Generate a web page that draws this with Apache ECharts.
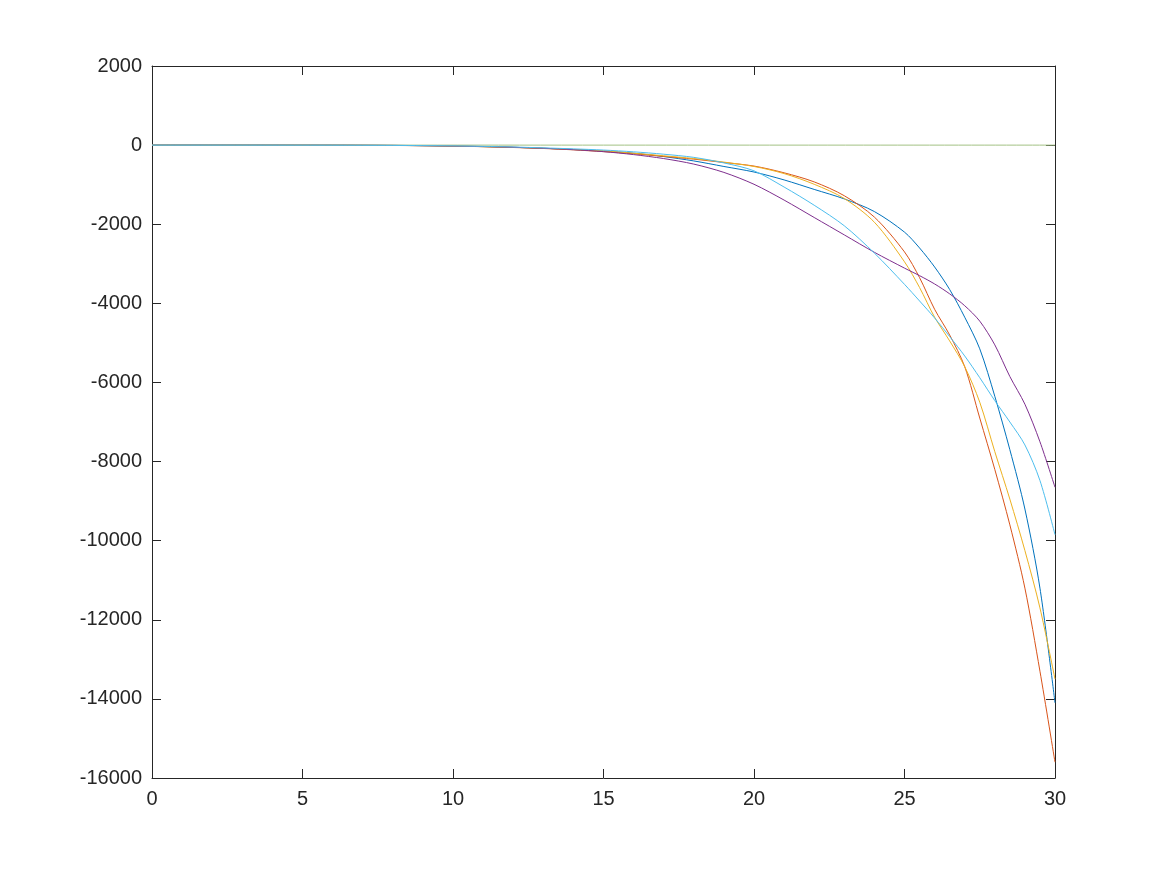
<!DOCTYPE html>
<html><head><meta charset="utf-8">
<script src="https://cdn.jsdelivr.net/npm/echarts@6/dist/echarts.min.js"></script>
<style>html,body{margin:0;padding:0;background:#fff}#c{width:1167px;height:875px}</style>
</head><body><div id="c"></div>
<script>
const xs = [0,2,4,6,7,8,9,10,11,12,13,14,15,16,17,18,19,20,21,22,23,24,25,25.5,26,26.5,27,27.5,28,28.5,29,29.5,30];
const blueVals = [0,0,-1,-3,-5,-8,-14,-24,-38,-56,-80,-110,-150,-205,-290,-400,-540,-680,-880,-1120,-1360,-1680,-2200,-2600,-3080,-3650,-4350,-5150,-6350,-7700,-9200,-11200,-14100];
const orangeVals = [0,0,-1,-3,-5,-9,-15,-26,-40,-60,-85,-120,-165,-220,-285,-355,-440,-530,-700,-930,-1280,-1820,-2700,-3350,-4150,-4800,-5600,-6900,-8200,-9600,-11200,-13300,-15600];
const yellowVals = [0,0,-1,-3,-5,-8,-14,-24,-38,-56,-80,-110,-145,-205,-270,-340,-430,-540,-720,-990,-1350,-1950,-2950,-3600,-4350,-4950,-5600,-6500,-7750,-8950,-10250,-11700,-13500];
const purpleVals = [0,0,-1,-2,-4,-7,-13,-22,-35,-55,-80,-115,-165,-240,-340,-480,-690,-990,-1390,-1830,-2270,-2710,-3110,-3300,-3510,-3760,-4060,-4450,-5050,-5850,-6550,-7500,-8650];
const lightBlueVals = [0,0,-1,-2,-4,-7,-12,-20,-32,-48,-70,-95,-125,-170,-230,-310,-450,-650,-1060,-1520,-2040,-2730,-3520,-3940,-4370,-4840,-5330,-5880,-6460,-7000,-7580,-8480,-9850];
const greenX = [0, 30];
const greenVals = [0, 0];

const xTicks = {min: 0, max: 30, interval: 5};
const yTicks = {min: -16000, max: 2000, interval: 2000};

const pairs = (x, y) => x.map((v, i) => [v, y[i]]);
const font = "'Liberation Sans', Helvetica, Arial, sans-serif";
const axisLine = {show: true, onZero: false, lineStyle: {color: '#262626', width: 1}};
const tick = {show: true, inside: true, length: 9, lineStyle: {color: '#262626', width: 1}};
const lbl = {color: '#262626', fontSize: 20, fontFamily: font};

const chart = echarts.init(document.getElementById('c'));
const line = (name, x, y, color) => ({
  name, type: 'line', data: pairs(x, y), showSymbol: false, symbol: 'none',
  smooth: 0.3, animation: false,
  lineStyle: {color, width: 1}, itemStyle: {color}, z: 2
});
chart.setOption({
  animation: false,
  backgroundColor: '#ffffff',
  grid: {left: 152, right: 112, top: 66, bottom: 97, containLabel: false},
  xAxis: [
    {type: 'value', position: 'bottom', ...xTicks, axisLine, axisTick: tick,
     axisLabel: {...lbl, margin: 11, formatter: v => String(v)}, splitLine: {show: false}},
    {type: 'value', position: 'top', ...xTicks, axisLine, axisTick: tick,
     axisLabel: {show: false}, splitLine: {show: false}}
  ],
  yAxis: [
    {type: 'value', position: 'left', ...yTicks, axisLine, axisTick: tick,
     axisLabel: {...lbl, margin: 10, formatter: v => String(v)}, splitLine: {show: false}},
    {type: 'value', position: 'right', ...yTicks, axisLine, axisTick: tick,
     axisLabel: {show: false}, splitLine: {show: false}}
  ],
  series: [
    line('s1', xs, blueVals, '#0072BD'),
    line('s2', xs, orangeVals, '#D95319'),
    line('s3', xs, yellowVals, '#EDB120'),
    line('s4', xs, purpleVals, '#7E2F8E'),
    line('s5', greenX, greenVals, '#a3c184'),
    line('s6', xs, lightBlueVals, '#4DBEEE')
  ]
});
</script>
</body></html>
